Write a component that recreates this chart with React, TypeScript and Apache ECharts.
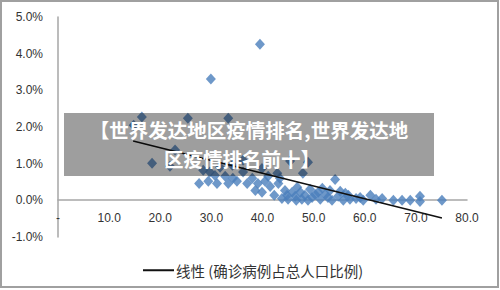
import React, { useEffect, useRef } from "react";
import * as echarts from "echarts";

// Scatter: x = value, y = percentage (%)
const xValues = [
  16.4, 18.4, 21.9, 25.4, 33.3, 29.9, 39.5, 27.6, 29.4, 31.1,
  28.4, 29.7, 31.7, 32.7, 33.3, 35.0, 34.1, 37.0, 36.2, 38.0,
  39.1, 39.9, 40.5, 41.1, 42.9, 43.1, 45.4, 48.9, 47.9, 44.4,
  44.8, 46.8, 46.4, 47.4, 48.3, 49.3, 49.7, 50.9, 51.3, 52.3,
  52.8, 53.2, 54.2, 54.8, 56.2, 57.1, 58.3, 59.7, 61.1, 62.2,
  63.4, 65.6, 67.3, 68.9, 70.8, 70.8, 75.1, 45.8, 47.7, 50.3,
  53.6, 55.8, 38.6, 41.5, 43.4, 34.2, 30.7, 36.2, 22.9, 46.6,
  48.9, 51.7, 45.0, 55.2, 56.8, 59.1, 42.3, 43.8, 39.9, 14.8,
];
const yValues = [
  2.27, 1.01, 0.93, 2.24, 2.24, 3.31, 4.26, 0.46, 0.52, 0.46,
  0.82, 0.77, 0.90, 0.66, 0.46, 0.52, 0.96, 0.46, 0.77, 0.60,
  0.46, 0.87, 0.52, 0.66, 0.74, 0.46, 1.07, 1.04, 0.74, 0.27,
  0.14, 0.36, 0.11, 0.22, 0.14, 0.30, 0.08, 0.22, 0.03, 0.16,
  0.08, 0.27, 0.57, 0.11, 0.19, 0.03, 0.05, 0.00, 0.14, 0.03,
  0.05, 0.00, 0.00, 0.00, 0.11, -0.03, 0.00, 0.22, 0.03, 0.16,
  0.00, 0.00, 0.27, 0.38, 0.60, 0.60, 0.68, 1.09, 1.37, 0.00,
  0.00, 0.33, 0.03, 0.25, 0.14, 0.08, 0.14, 0.05, 0.22, 2.05,
];

// Linear trend line endpoints
const trendX = [14.7, 75.1];
const trendY = [1.62, -0.48];

const yTicks = [-1, 0, 1, 2, 3, 4, 5];
const xTicks = [0, 10, 20, 30, 40, 50, 60, 70, 80];

const trendName = "线性 (确诊病例占总人口比例)";
const bannerLines = ["【世界发达地区疫情排名,世界发达地", "区疫情排名前十】"];

export default function App() {
  const ref = useRef<HTMLDivElement>(null);
  useEffect(() => {
    if (!ref.current) return;
    const chart = echarts.init(ref.current, undefined, { renderer: "svg" });
    const scatterData = xValues.map((x, i) => [x, yValues[i]]);
    const trendData = trendX.map((x, i) => [x, trendY[i]]);
    chart.setOption({
      animation: false,
      backgroundColor: "#ffffff",
      grid: { left: 58, top: 17, width: 409, height: 220, containLabel: false },
      xAxis: {
        type: "value",
        min: xTicks[0],
        max: xTicks[xTicks.length - 1],
        interval: 10,
        offset: -37,
        axisLine: { show: true, onZero: false, lineStyle: { color: "#a6a6a6", width: 1.5 } },
        axisTick: { show: false },
        splitLine: { show: false },
        axisLabel: {
          margin: 12,
          color: "#333",
          fontSize: 12,
          fontFamily: "Liberation Sans",
          formatter: (v: number) => (v === 0 ? "-" : v.toFixed(1)),
        },
      },
      yAxis: {
        type: "value",
        min: yTicks[0],
        max: yTicks[yTicks.length - 1],
        interval: 1,
        axisLine: { show: true, onZero: false, lineStyle: { color: "#a6a6a6", width: 1.5 } },
        axisTick: { show: false },
        splitLine: { show: false },
        axisLabel: {
          margin: 15,
          color: "#333",
          fontSize: 12,
          fontFamily: "Liberation Sans",
          formatter: (v: number) => v.toFixed(1) + "%",
        },
      },
      legend: {
        left: 138,
        top: 258,
        itemWidth: 31,
        itemHeight: 2,
        itemGap: 4,
        data: [{ name: trendName, icon: "rect" }],
        textStyle: { color: "#333", fontSize: 14.5, fontFamily: "Noto Sans CJK SC", padding: [0, 0, 0, -3] },
      },
      series: [
        {
          type: "scatter",
          name: "points",
          symbol: "diamond",
          symbolSize: [10, 11],
          itemStyle: { color: "#4a7ebb" },
          data: scatterData,
          z: 2,
        },
        {
          type: "line",
          name: trendName,
          data: trendData,
          symbol: "none",
          lineStyle: { color: "#111", width: 1.5 },
          itemStyle: { color: "#111" },
          z: 3,
        },
      ],
      graphic: [
        {
          type: "rect",
          z: 100,
          shape: { x: 1, y: 1, width: 497, height: 286 },
          style: { fill: "none", stroke: "#a0a0a0", lineWidth: 2 },
        },
        {
          type: "rect",
          z: 100,
          shape: { x: 64, y: 113, width: 370, height: 63 },
          style: { fill: "rgba(0,0,0,0.38)" },
        },
        {
          type: "text",
          z: 101,
          x: 249,
          y: 129.5,
          style: {
            text: bannerLines[0],
            fill: "#fff",
            font: "bold 19.5px 'Noto Sans CJK SC'",
            align: "center",
            verticalAlign: "middle",
          },
        },
        {
          type: "text",
          z: 101,
          x: 242,
          y: 158,
          style: {
            text: bannerLines[1],
            fill: "#fff",
            font: "bold 19.5px 'Noto Sans CJK SC'",
            align: "center",
            verticalAlign: "middle",
          },
        },
      ],
    });
    return () => chart.dispose();
  }, []);
  return (
    <div
      ref={ref}
      style={{ position: "absolute", left: 0, top: 0, width: 500, height: 290 }}
    />
  );
}
